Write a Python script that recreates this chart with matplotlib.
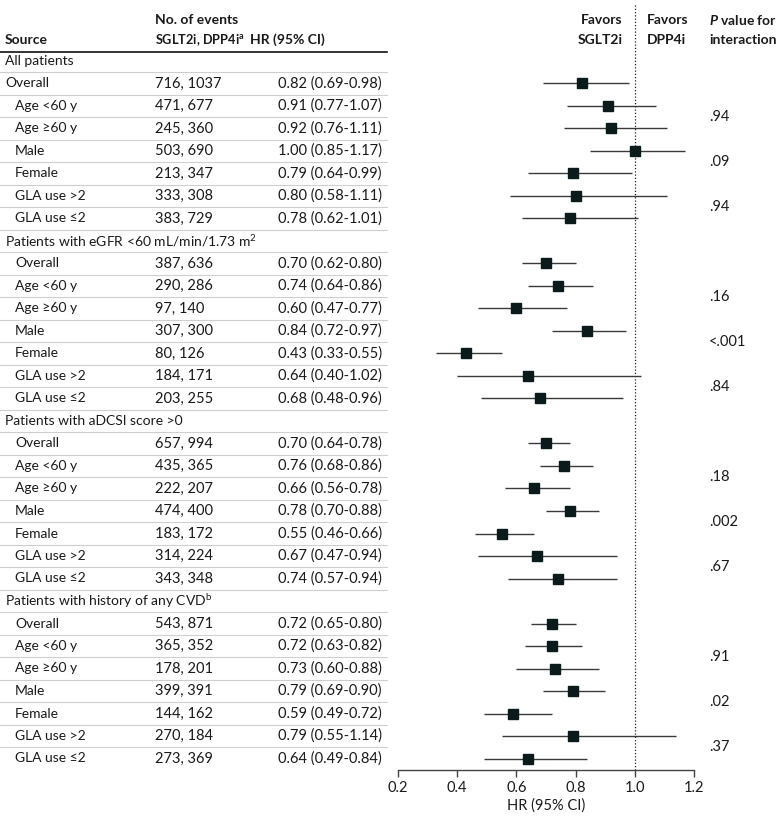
import numpy as np
import matplotlib
matplotlib.use('Agg')
import matplotlib.pyplot as plt
import matplotlib.transforms as mtransforms

plt.rcParams['font.family'] = ['Lato', 'DejaVu Sans']
plt.rcParams['mathtext.fontset'] = 'custom'
plt.rcParams['mathtext.rm'] = 'Lato'
plt.rcParams['mathtext.bf'] = 'Lato:bold'
plt.rcParams['mathtext.it'] = 'Lato:italic:bold'

# ---- data ----
groups = ['All patients',
          'Patients with eGFR <60 mL/min/1.73 m$^{2}$',
          'Patients with aDCSI score >0',
          'Patients with history of any CVD$^{\\mathrm{b}}$']
subgroups = ['Overall', 'Age <60 y', 'Age \u226560 y', 'Male', 'Female',
             'GLA use >2', 'GLA use \u22642']
events = [
    ['716, 1037', '471, 677', '245, 360', '503, 690', '213, 347', '333, 308', '383, 729'],
    ['387, 636', '290, 286', '97, 140', '307, 300', '80, 126', '184, 171', '203, 255'],
    ['657, 994', '435, 365', '222, 207', '474, 400', '183, 172', '314, 224', '343, 348'],
    ['543, 871', '365, 352', '178, 201', '399, 391', '144, 162', '270, 184', '273, 369'],
]
hr = [
    [0.82, 0.91, 0.92, 1.00, 0.79, 0.80, 0.78],
    [0.70, 0.74, 0.60, 0.84, 0.43, 0.64, 0.68],
    [0.70, 0.76, 0.66, 0.78, 0.55, 0.67, 0.74],
    [0.72, 0.72, 0.73, 0.79, 0.59, 0.79, 0.64],
]
ci_lo = [
    [0.69, 0.77, 0.76, 0.85, 0.64, 0.58, 0.62],
    [0.62, 0.64, 0.47, 0.72, 0.33, 0.40, 0.48],
    [0.64, 0.68, 0.56, 0.70, 0.46, 0.47, 0.57],
    [0.65, 0.63, 0.60, 0.69, 0.49, 0.55, 0.49],
]
ci_hi = [
    [0.98, 1.07, 1.11, 1.17, 0.99, 1.11, 1.01],
    [0.80, 0.86, 0.77, 0.97, 0.55, 1.02, 0.96],
    [0.78, 0.86, 0.78, 0.88, 0.66, 0.94, 0.94],
    [0.80, 0.82, 0.88, 0.90, 0.72, 1.14, 0.84],
]
p_values = [['.94', '.09', '.94'],
            ['.16', '<.001', '.84'],
            ['.18', '.002', '.67'],
            ['.91', '.02', '.37']]
x_ticks = [0.2, 0.4, 0.6, 0.8, 1.0, 1.2]

W, H = 780, 823
fig = plt.figure(figsize=(W / 100, H / 100), dpi=100)

# forest axes: rows are y units, row 0 at pixel 61, 22.5 px per row
row_px0, row_step = 61, 22.5
ax_top_px, ax_bot_px = 5, 769.5
ax_l, ax_r = 398, 694
ax = fig.add_axes([ax_l / W, 1 - ax_bot_px / H, (ax_r - ax_l) / W,
                   (ax_bot_px - ax_top_px) / H])
ax.set_xlim(0.2, 1.2)
ax.set_ylim((ax_bot_px - row_px0) / row_step, (ax_top_px - row_px0) / row_step)
for s in ['left', 'top', 'right']:
    ax.spines[s].set_visible(False)
ax.spines['bottom'].set_color('#444444')
ax.spines['bottom'].set_linewidth(1.0)
ax.set_yticks([])
ax.set_xticks(x_ticks)
ax.set_xticklabels([f'{t:.1f}' for t in x_ticks])
ax.tick_params(axis='x', length=5, width=1.0, color='#444444',
               labelsize=10.5, labelcolor='#1a1a1a', pad=3)
ax.set_xlabel('HR (95% CI)', fontsize=10.5, color='#1a1a1a', labelpad=3)
ax.axvline(1.0, color='#222222', linestyle=(0, (1, 1.6)), linewidth=0.9, zorder=1)

# text columns use figure x and data y
tr = mtransforms.blended_transform_factory(fig.transFigure, ax.transData)
lab_kw = dict(transform=tr, fontsize=10, color='#1a1a1a', va='center',
              clip_on=False)
num_kw = dict(lab_kw, fontsize=10.5)

def fx(px):
    return px / W

row = 0
for g in range(len(groups)):
    ax.text(fx(5), row, groups[g], **lab_kw)
    for k, sub in enumerate(subgroups):
        r = row + 1 + k
        indent = 5 if (g == 0 and k == 0) else 15
        ax.text(fx(indent), r, sub, **lab_kw)
        ax.text(fx(155), r, events[g][k], **num_kw)
        ax.text(fx(278), r,
                f'{hr[g][k]:.2f} ({ci_lo[g][k]:.2f}-{ci_hi[g][k]:.2f})',
                **num_kw)
        ax.plot([ci_lo[g][k], ci_hi[g][k]], [r, r], color='#3a3a3a',
                linewidth=1.0, solid_capstyle='butt', zorder=2)
        ax.plot(hr[g][k], r, marker='s', markersize=6.5, color='#0b1a1a',
                markeredgecolor='#0b1a1a', zorder=3)
    for j in range(3):
        ax.text(fx(709), row + 2.5 + 2 * j, p_values[g][j], **num_kw)
    row += 1 + len(subgroups)

# row separators
n_rows = row
for i in range(n_rows - 1):
    ax.plot([0, fx(387)], [i + 0.5, i + 0.5], transform=tr, color='#cfcfcf',
            linewidth=0.8, clip_on=False)
hdr_y = (52 - row_px0) / row_step
ax.plot([0, fx(387)], [hdr_y, hdr_y], transform=tr, color='#111111',
        linewidth=1.2, clip_on=False)

# headers
y1 = (20 - row_px0) / row_step
y2 = (40 - row_px0) / row_step
hb = dict(lab_kw, fontweight='bold')
ax.text(fx(5), y2, 'Source', **hb)
ax.text(fx(155), y1, 'No. of events', **hb)
ax.text(fx(155), y2, 'SGLT2i, DPP4i$^{\\mathbf{a}}$', **dict(hb, fontsize=9.2))
ax.text(fx(250), y2, 'HR (95% CI)', **hb)
ax.text(fx(623), y1, 'Favors', ha='right', **hb)
ax.text(fx(623), y2, 'SGLT2i', ha='right', **hb)
ax.text(fx(647), y1, 'Favors', **hb)
ax.text(fx(647), y2, 'DPP4i', **hb)
ax.text(fx(709), y1, '$\\mathit{P}$ value for', **hb)
ax.text(fx(709), y2, 'interaction', **hb)

fig.savefig('out.png', dpi=100, facecolor='white')
